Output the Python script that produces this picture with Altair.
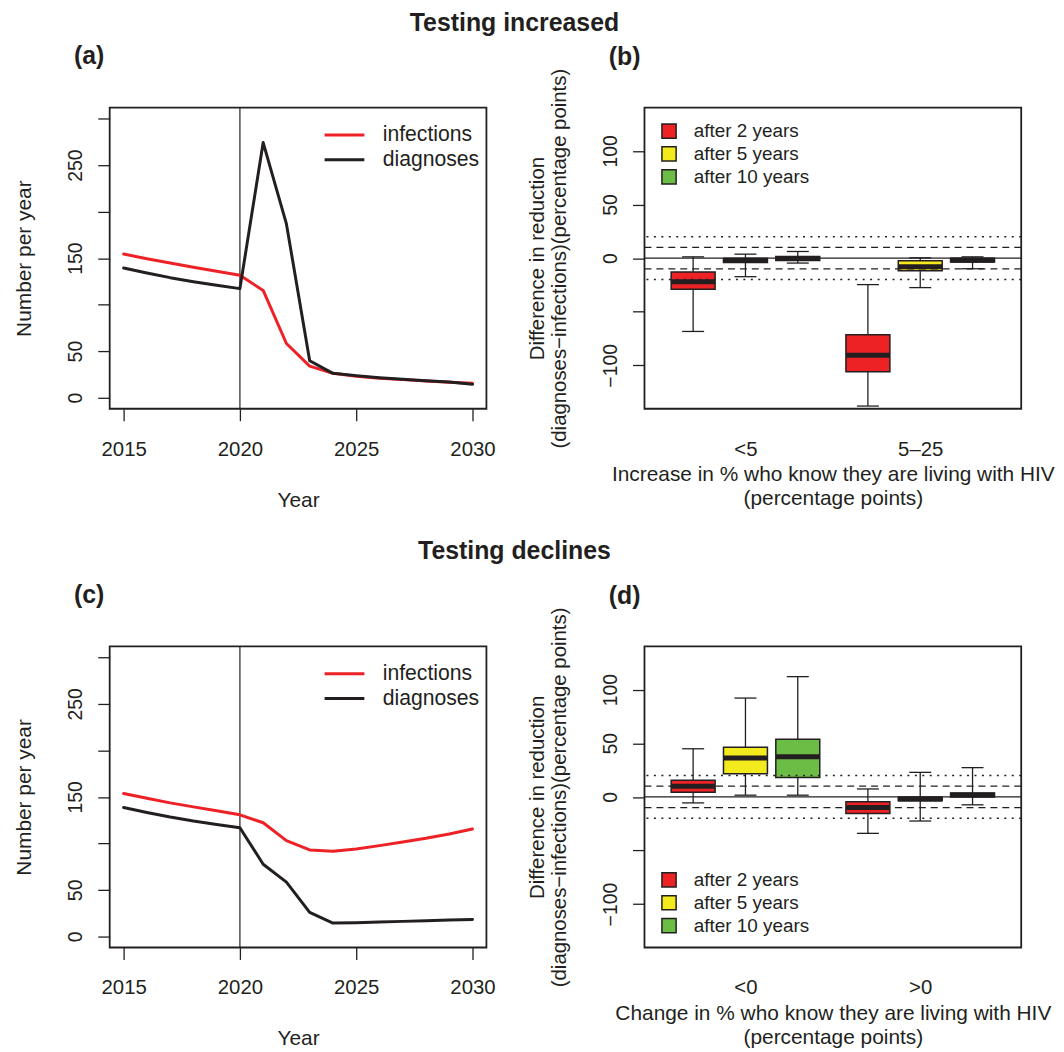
import altair as alt
import pandas as pd

FONT = "Liberation Sans"
INK = "#231F20"

# ---------------- data ----------------
years = list(range(2015, 2031))
series_names = ["infections", "diagnoses"]
series_colors = ["#EE2226", "#231F20"]

inc_infections = [154.4, 149.4, 144.8, 140.1, 135.8, 131.5, 115.3, 58.2, 33.9, 26.1, 22.9, 20.7, 19.3, 17.9, 16.4, 15.4]
inc_diagnoses = [139.4, 134.0, 129.0, 124.7, 120.8, 117.2, 274.3, 186.8, 39.6, 26.1, 23.6, 21.4, 19.6, 18.2, 16.8, 14.3]
dec_infections = [153.6, 148.6, 143.6, 139.3, 135.0, 130.7, 122.2, 102.9, 92.9, 91.5, 94.0, 97.6, 101.5, 105.5, 110.1, 115.5]
dec_diagnoses = [138.6, 133.3, 128.3, 124.0, 120.4, 116.8, 77.6, 58.3, 25.7, 14.3, 14.6, 15.4, 16.1, 16.8, 17.5, 18.2]
intervention_year = [2020]

year_ticks = [2015, 2020, 2025, 2030]
count_ticks = [0, 50, 100, 150, 200, 250, 300]
count_labels_shown = [0, 50, 150, 250]

horizons = ["after 2 years", "after 5 years", "after 10 years"]
box_colors = ["#ED2224", "#F3EA1E", "#6BBD45"]

inc_groups = ["<5", "5–25"]
inc_lo = [-68.4, -17.3, -4.6, -138.0, -27.5, -9.9]
inc_q1 = [-29.0, -4.0, -2.1, -106.0, -11.7, -3.7]
inc_med = [-22.0, -2.0, -0.3, -90.6, -8.0, -1.9]
inc_q3 = [-13.0, -0.3, 1.6, -71.4, -2.5, 0.0]
inc_hi = [1.2, 3.7, 6.2, -24.7, 0.3, 1.2]

dec_groups = ["<0", ">0"]
dec_lo = [-5.6, 1.6, 1.6, -34.0, -22.5, -7.4]
dec_q1 = [4.4, 21.7, 18.0, -15.4, -3.7, 0.0]
dec_med = [9.9, 36.2, 37.5, -9.8, -1.9, 1.9]
dec_q3 = [15.5, 46.4, 53.8, -4.6, -0.3, 3.7]
dec_hi = [44.9, 92.2, 112.2, 7.4, 22.9, 27.3]

diff_ticks = [-100, -50, 0, 50, 100]
diff_labels_shown = [-100, 0, 50, 100]
ref_solid = [0]
ref_dashed = [-10, 10]
ref_dotted = [-20, 20]

# ---------------- layout constants ----------------
W, H = 379, 303
TAG_STYLE = dict(anchor="start", frame="group", dx=-36, offset=14, baseline="alphabetic",
                 fontSize=25, fontWeight="bold", font=FONT, color=INK)
GROUP_STEP = 3.34
BOX_HALF = 0.42
CAP_HALF = 0.21
XTITLE_SIZE = 21
XLABEL_SIZE = 20.5


def line_panel(tag, infections, diagnoses):
    df = pd.DataFrame({
        "year": years + years,
        "value": infections + diagnoses,
        "series": [series_names[0]] * len(years) + [series_names[1]] * len(years),
    })
    xs = alt.Scale(domain=[2014.4, 2030.6], nice=False, zero=False)
    ys = alt.Scale(domain=[-12, 312], nice=False, zero=False)
    xaxis = alt.Axis(values=year_ticks, format="d", title="Year", labelPadding=34.6,
                     labelFontSize=XLABEL_SIZE, titleFontSize=XTITLE_SIZE,
                     labelBaseline="alphabetic", titleY=98, titleBaseline="alphabetic")
    shown = "[" + ",".join(str(v) for v in count_labels_shown) + "]"
    yaxis = alt.Axis(values=count_ticks, labelExpr=f"indexof({shown}, datum.value) >= 0 ? datum.label : ''",
                     labelAngle=270, labelAlign="center", labelBaseline="alphabetic", labelPadding=16,
                     title="Number per year", titleAngle=270, titleAlign="center", titleBaseline="top",
                     titleFontSize=21, titleX=-96.5, titleY=H / 2)
    color = alt.Color("series:N", scale=alt.Scale(domain=series_names, range=series_colors),
                      legend=alt.Legend(orient="none", legendX=224.7, legendY=16.1, title=None,
                                        symbolType="M-2,0H2", symbolSize=400, symbolStrokeWidth=3,
                                        labelFontSize=21.3, labelOffset=27, rowPadding=3, padding=0,
                                        labelFont=FONT, labelColor=INK))
    vline = alt.Chart(pd.DataFrame({"year": intervention_year})).mark_rule(
        color=INK, strokeWidth=1.2).encode(x=alt.X("year:Q", scale=xs, axis=xaxis))
    layers = [vline]
    for name in series_names:
        layers.append(
            alt.Chart(df).transform_filter(alt.datum.series == name).mark_line(
                strokeWidth=3, strokeCap="round", strokeJoin="round").encode(
                x=alt.X("year:Q", scale=xs, axis=xaxis),
                y=alt.Y("value:Q", scale=ys, axis=yaxis),
                color=color))
    return alt.layer(*layers).properties(width=W, height=H, title=alt.Title(tag, dy=-4, **TAG_STYLE))


def box_panel(tag, groups, lo, q1, med, q3, hi, legend_y, xtitle):
    rows = []
    for gi, g in enumerate(groups):
        for hj, h in enumerate(horizons):
            k = gi * len(horizons) + hj
            rows.append({"group": g, "horizon": h, "slot": hj, "gidx": gi,
                         "lo": lo[k], "q1": q1[k], "med": med[k], "q3": q3[k], "hi": hi[k]})
    df = pd.DataFrame(rows)
    base = alt.Chart(df).transform_calculate(
        pos=f"1 + datum.slot + datum.gidx * {GROUP_STEP}"
    ).transform_calculate(
        left=f"datum.pos - {BOX_HALF}", right=f"datum.pos + {BOX_HALF}",
        capl=f"datum.pos - {CAP_HALF}", capr=f"datum.pos + {CAP_HALF}")

    xs = alt.Scale(domain=[0.07, 7.27], nice=False, zero=False)
    ys = alt.Scale(domain=[-140.5, 140.5], nice=False, zero=False)
    mid_slot = (len(horizons) - 1) / 2
    group_centres = [1 + mid_slot + gi * GROUP_STEP for gi in range(len(groups))]
    split = (group_centres[0] + group_centres[1]) / 2
    xaxis = alt.Axis(values=group_centres,
                     labelExpr=f"datum.value < {split} ? '{groups[0]}' : '{groups[1]}'",
                     tickOpacity=0, labelPadding=34.6, labelBaseline="alphabetic",
                     labelFontSize=XLABEL_SIZE, titleFontSize=XTITLE_SIZE,
                     title=xtitle, titleY=72.6, titleBaseline="alphabetic", titleLineHeight=24)
    shown = "[" + ",".join(str(v) for v in diff_labels_shown) + "]"
    yaxis = alt.Axis(values=diff_ticks, labelExpr=f"indexof({shown}, datum.value) >= 0 ? datum.label : ''",
                     labelAngle=270, labelAlign="center", labelBaseline="alphabetic", labelPadding=16,
                     title=["Difference in reduction", "(diagnoses−infections)(percentage points)"],
                     titleAngle=270, titleAlign="center", titleBaseline="top", titleLineHeight=22,
                     titleX=-117.7, titleY=H / 2)
    fill = alt.Fill("horizon:N", scale=alt.Scale(domain=horizons, range=box_colors),
                    legend=alt.Legend(orient="none", legendX=15.2, legendY=legend_y, title=None,
                                      symbolType="square", symbolSize=204, symbolStrokeColor=INK,
                                      symbolStrokeWidth=1.5, symbolOpacity=1, labelFontSize=19,
                                      labelOffset=15.4, rowPadding=2, padding=0,
                                      labelFont=FONT, labelColor=INK))

    whisk = base.mark_rule(color=INK, strokeWidth=1.3).encode(
        x=alt.X("pos:Q", scale=xs, axis=xaxis), y=alt.Y("lo:Q", scale=ys, axis=yaxis), y2="hi:Q")
    cap_lo = base.mark_rule(color=INK, strokeWidth=1.3).encode(
        x=alt.X("capl:Q", scale=xs, axis=xaxis), x2="capr:Q", y=alt.Y("lo:Q", scale=ys, axis=yaxis))
    cap_hi = base.mark_rule(color=INK, strokeWidth=1.3).encode(
        x=alt.X("capl:Q", scale=xs, axis=xaxis), x2="capr:Q", y=alt.Y("hi:Q", scale=ys, axis=yaxis))
    boxes = base.mark_rect(stroke=INK, strokeWidth=1.5, opacity=1).encode(
        x=alt.X("left:Q", scale=xs, axis=xaxis), x2="right:Q",
        y=alt.Y("q1:Q", scale=ys, axis=yaxis), y2="q3:Q", fill=fill)
    medians = base.mark_rule(color=INK, strokeWidth=5).encode(
        x=alt.X("left:Q", scale=xs, axis=xaxis), x2="right:Q", y=alt.Y("med:Q", scale=ys, axis=yaxis))

    def ref(levels, dash, width):
        kw = dict(color=INK, strokeWidth=width)
        if dash:
            kw["strokeDash"] = dash
        return alt.Chart(pd.DataFrame({"level": levels})).mark_rule(**kw).encode(
            y=alt.Y("level:Q", scale=ys, axis=yaxis))

    lines = [ref(ref_solid, None, 1.3), ref(ref_dashed, [7, 5], 1.3), ref(ref_dotted, [2, 5.5], 1.5)]
    return alt.layer(whisk, cap_lo, cap_hi, boxes, medians, *lines).properties(
        width=W, height=H, title=alt.Title(tag, dy=36, **TAG_STYLE))


panel_a = line_panel("(a)", inc_infections, inc_diagnoses)
panel_b = box_panel("(b)", inc_groups, inc_lo, inc_q1, inc_med, inc_q3, inc_hi, 14.2,
                    ["Increase in % who know they are living with HIV", "(percentage points)"])
panel_c = line_panel("(c)", dec_infections, dec_diagnoses)
panel_d = box_panel("(d)", dec_groups, dec_lo, dec_q1, dec_med, dec_q3, dec_hi, 225.5,
                    ["Change in % who know they are living with HIV", "(percentage points)"])

ROW_TITLE = dict(anchor="start", align="center", frame="group", baseline="alphabetic", offset=0,
                 fontSize=25, fontWeight="bold", font=FONT, color=INK)


def row(left, right, text, dy):
    return alt.hconcat(left, right, spacing=159, bounds="flush",
                       title=alt.Title(text, dx=407.2, dy=dy, **ROW_TITLE)
                       ).resolve_scale(color="independent", fill="independent"
                       ).resolve_legend(color="independent", fill="independent")


row1 = row(panel_a, panel_b, "Testing increased", 12.5)
row2 = row(panel_c, panel_d, "Testing declines", 1.5)

chart = alt.vconcat(row1, row2, spacing=28).resolve_scale(
    color="independent", fill="independent"
).resolve_legend(color="independent", fill="independent").properties(
    padding={"left": 4.3, "top": 0, "right": 0, "bottom": 0}
).configure(font=FONT).configure_view(
    stroke=INK, strokeWidth=1.8
).configure_axis(
    labelFont=FONT, labelFontSize=19.5, labelColor=INK, titleFont=FONT, titleFontSize=20.5,
    titleFontWeight="normal", titleColor=INK, tickColor=INK, tickWidth=1.3, tickSize=12,
    domain=False, grid=False, labelFlush=False, labelOverlap=False
)

chart.save("out.html", embed_options={"renderer": "svg", "actions": False})
